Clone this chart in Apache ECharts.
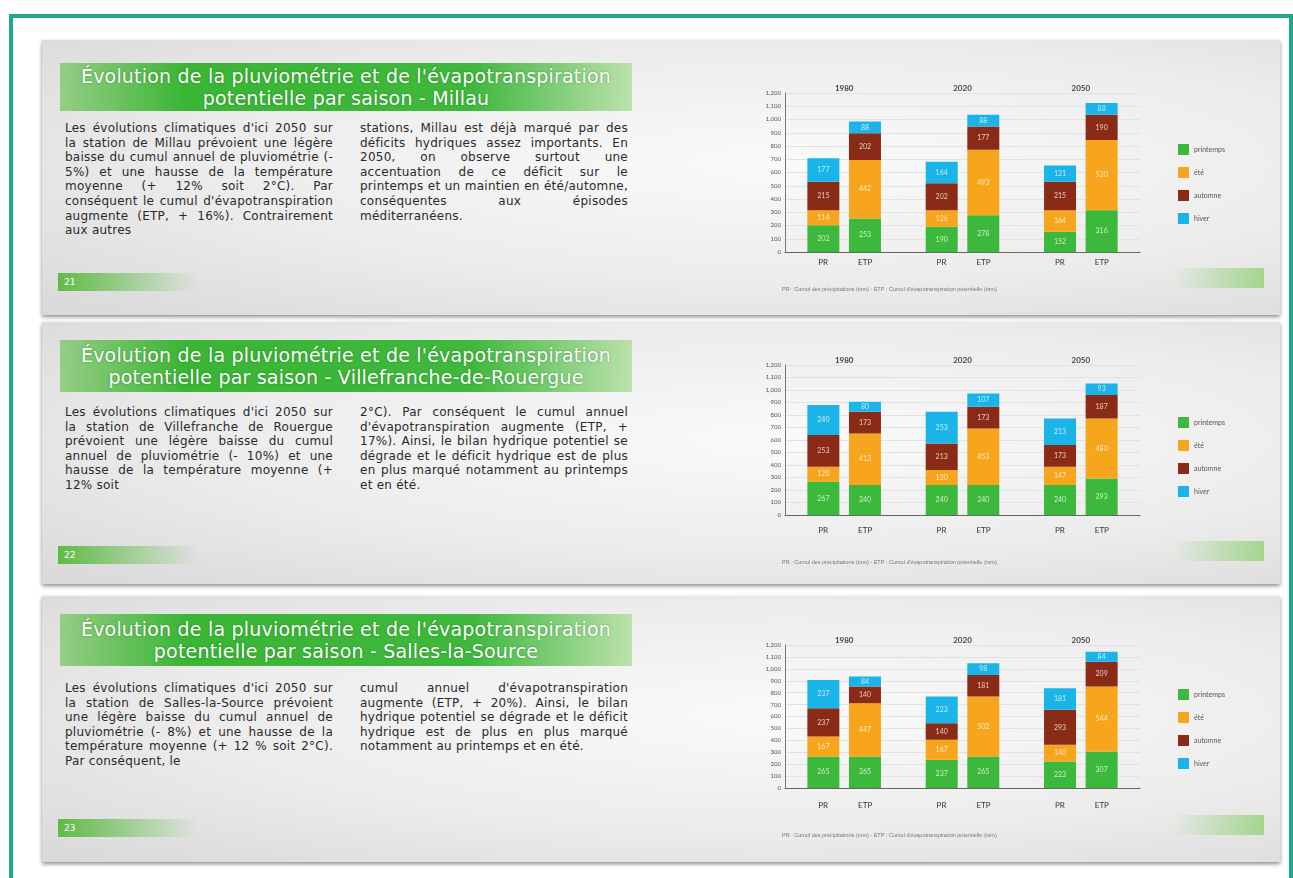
<!DOCTYPE html>
<html lang="fr">
<head>
<meta charset="UTF-8">
<title>Pluviométrie et ETP par saison</title>
<script src="https://cdn.jsdelivr.net/npm/echarts@6/dist/echarts.min.js"></script>
<style>
  body { margin:0; width:1293px; height:878px; background:#fff; position:relative; overflow:hidden; font-family:"DejaVu Sans", sans-serif; }
  .frame { position:absolute; left:9px; top:14px; width:1276px; height:880px; border:4px solid #1fa88b; border-bottom:none; }
  .card { position:absolute; left:42px; width:1238px; box-shadow:0 2px 4px rgba(0,0,0,.45);
    background:radial-gradient(ellipse at 60% 45%, #fafafa 0%, #ececec 55%, #d8d8d8 100%); }
  .banner { position:absolute; left:60px; width:572px; color:#fff; text-align:center; font-size:19px; line-height:22px; letter-spacing:0.2px;
    white-space:nowrap; overflow:hidden; box-sizing:border-box;
    text-shadow:0 0 2px rgba(0,80,0,.5);
    background:linear-gradient(to right, rgba(130,200,110,.8) 0%, #3ab534 22%, #3fb83d 72%, rgba(170,220,150,.75) 100%); }
  .col { position:absolute; width:268px; font-size:12px; letter-spacing:0.25px; line-height:14.6px; color:#2a2a2a; text-align:justify; }
  .fadeL { position:absolute; left:58px; width:140px; height:18px; background:linear-gradient(to right,#5fbb45,rgba(150,210,130,0)); color:#fff; font-size:9px; line-height:18px; padding-left:6px; box-sizing:border-box; }
  .fadeR { position:absolute; left:1172px; width:92px; height:20px; background:linear-gradient(to right,rgba(170,220,150,0),#a3d68c); }
  .chart { position:absolute; left:740px; width:540px; height:240px; }
</style>
</head>
<body>
<div class="frame"></div>

<div class="card" style="top:40px;height:275px"></div>
<div class="card" style="top:322px;height:262px"></div>
<div class="card" style="top:596px;height:266px"></div>

<div class="banner" style="top:63px;height:48px;padding-top:2px">Évolution de la pluviométrie et de l'évapotranspiration<br>potentielle par saison - Millau</div>
<div class="banner" style="top:340px;height:52px;padding-top:4px">Évolution de la pluviométrie et de l'évapotranspiration<br>potentielle par saison - Villefranche-de-Rouergue</div>
<div class="banner" style="top:614px;height:52px;padding-top:4px">Évolution de la pluviométrie et de l'évapotranspiration<br>potentielle par saison - Salles-la-Source</div>

<div class="col" style="left:65px;top:121px">Les évolutions climatiques d'ici 2050 sur la station de Millau prévoient une légère baisse du cumul annuel de pluviométrie (- 5%) et une hausse de la température moyenne (+ 12% soit 2°C). Par conséquent le cumul d'évapotranspiration augmente (ETP, + 16%). Contrairement aux autres</div>
<div class="col" style="left:360px;top:121px">stations, Millau est déjà marqué par des déficits hydriques assez importants. En 2050, on observe surtout une accentuation de ce déficit sur le printemps et un maintien en été/automne, conséquentes aux épisodes méditerranéens.</div>

<div class="col" style="left:65px;top:405px">Les évolutions climatiques d'ici 2050 sur la station de Villefranche de Rouergue prévoient une légère baisse du cumul annuel de pluviométrie (- 10%) et une hausse de la température moyenne (+ 12% soit</div>
<div class="col" style="left:360px;top:405px">2°C). Par conséquent le cumul annuel d'évapotranspiration augmente (ETP, + 17%). Ainsi, le bilan hydrique potentiel se dégrade et le déficit hydrique est de plus en plus marqué notamment au printemps et en été.</div>

<div class="col" style="left:65px;top:681px">Les évolutions climatiques d'ici 2050 sur la station de Salles-la-Source prévoient une légère baisse du cumul annuel de pluviométrie (- 8%) et une hausse de la température moyenne (+ 12 % soit 2°C). Par conséquent, le</div>
<div class="col" style="left:360px;top:681px">cumul annuel d'évapotranspiration augmente (ETP, + 20%). Ainsi, le bilan hydrique potentiel se dégrade et le déficit hydrique est de plus en plus marqué notamment au printemps et en été.</div>

<div class="fadeL" style="top:273px">21</div>
<div class="fadeL" style="top:546px">22</div>
<div class="fadeL" style="top:819px">23</div>
<div class="fadeR" style="top:268px"></div>
<div class="fadeR" style="top:541px"></div>
<div class="fadeR" style="top:815px"></div>

<div class="chart" id="c1" style="top:70px"></div>
<div class="chart" id="c2" style="top:345px"></div>
<div class="chart" id="c3" style="top:620px"></div>

<script>
// saisons (ordre d'empilement, du bas vers le haut)
var seasons = ['printemps', 'été', 'automne', 'hiver'];
var seasonColors = ['#3cb83c', '#f7a51c', '#8a2b17', '#1ab4e8'];
var years = ['1980', '2020', '2050'];
var yTicks = [0, 100, 200, 300, 400, 500, 600, 700, 800, 900, 1000, 1100, 1200];
var note = "PR : Cumul des précipitations (mm) - ETP : Cumul d'évapotranspiration potentielle (mm)";

// valeurs en mm, une ligne par saison, une colonne par année
var millauPR  = [[202, 190, 152], [114, 126, 164], [215, 202, 215], [177, 164, 121]];
var millauETP = [[253, 278, 316], [442, 493, 530], [202, 177, 190], [88, 88, 88]];
var villefranchePR  = [[267, 240, 240], [120, 120, 147], [253, 213, 173], [240, 253, 213]];
var villefrancheETP = [[240, 240, 293], [413, 453, 480], [173, 173, 187], [80, 107, 93]];
var sallesPR  = [[265, 237, 223], [167, 167, 140], [237, 140, 293], [237, 223, 181]];
var sallesETP = [[265, 265, 307], [447, 502, 544], [140, 181, 209], [84, 98, 84]];

function makeChart(id, pr, etp, lay) {
    var chart = echarts.init(document.getElementById(id));
    var series = [];
    [['PR', pr], ['ETP', etp]].forEach(function (st) {
        seasons.forEach(function (s, i) {
            series.push({
                name: s,
                type: 'bar',
                stack: st[0],
                barWidth: 32,
                barGap: '30%',
                itemStyle: { color: seasonColors[i] },
                label: { show: true, fontSize: 7, color: 'rgba(255,255,255,0.75)' },
                data: st[1][i]
            });
        });
    });
    chart.setOption({
        animation: false,
        textStyle: { fontFamily: 'Lato' },
        grid: { left: 45, top: lay.top, height: lay.height, width: 355 },
        legend: {
            orient: 'vertical', left: 433, top: lay.legendTop,
            itemWidth: 11, itemHeight: 11, itemGap: 12,
            icon: 'rect',
            textStyle: { fontSize: 7, color: '#555' },
            data: seasons
        },
        xAxis: [{
            type: 'category', data: years,
            axisLine: { lineStyle: { color: '#666' } },
            axisTick: { show: false },
            axisLabel: {
                margin: lay.labelMargin,
                formatter: function () { return '{a|PR}{b|ETP}'; },
                rich: {
                    a: { width: 42, align: 'center', fontSize: 8, color: '#333' },
                    b: { width: 42, align: 'center', fontSize: 8, color: '#333' }
                }
            }
        }, {
            type: 'category', data: years, position: 'top',
            axisLine: { show: false }, axisTick: { show: false },
            axisLabel: { margin: 1, fontSize: 8, fontWeight: 'bold', color: '#444' }
        }],
        yAxis: {
            type: 'value', min: yTicks[0], max: yTicks[yTicks.length - 1], interval: 100,
            axisLine: { show: true, lineStyle: { color: '#777' } },
            axisLabel: { fontSize: 6, color: '#555', margin: 4 },
            splitLine: { lineStyle: { color: '#e2e2e2' } }
        },
        graphic: [{
            type: 'text', left: 42, top: lay.noteTop,
            style: { text: note, fontSize: 5.5, fill: '#777' }
        }],
        series: series
    });
}

makeChart('c1', millauPR, millauETP, { top: 23, height: 159, legendTop: 69, labelMargin: 6, noteTop: 216 });
makeChart('c2', villefranchePR, villefrancheETP, { top: 20, height: 150, legendTop: 67, labelMargin: 11, noteTop: 214 });
makeChart('c3', sallesPR, sallesETP, { top: 25, height: 143, legendTop: 64, labelMargin: 13, noteTop: 212 });
</script>
</body>
</html>
